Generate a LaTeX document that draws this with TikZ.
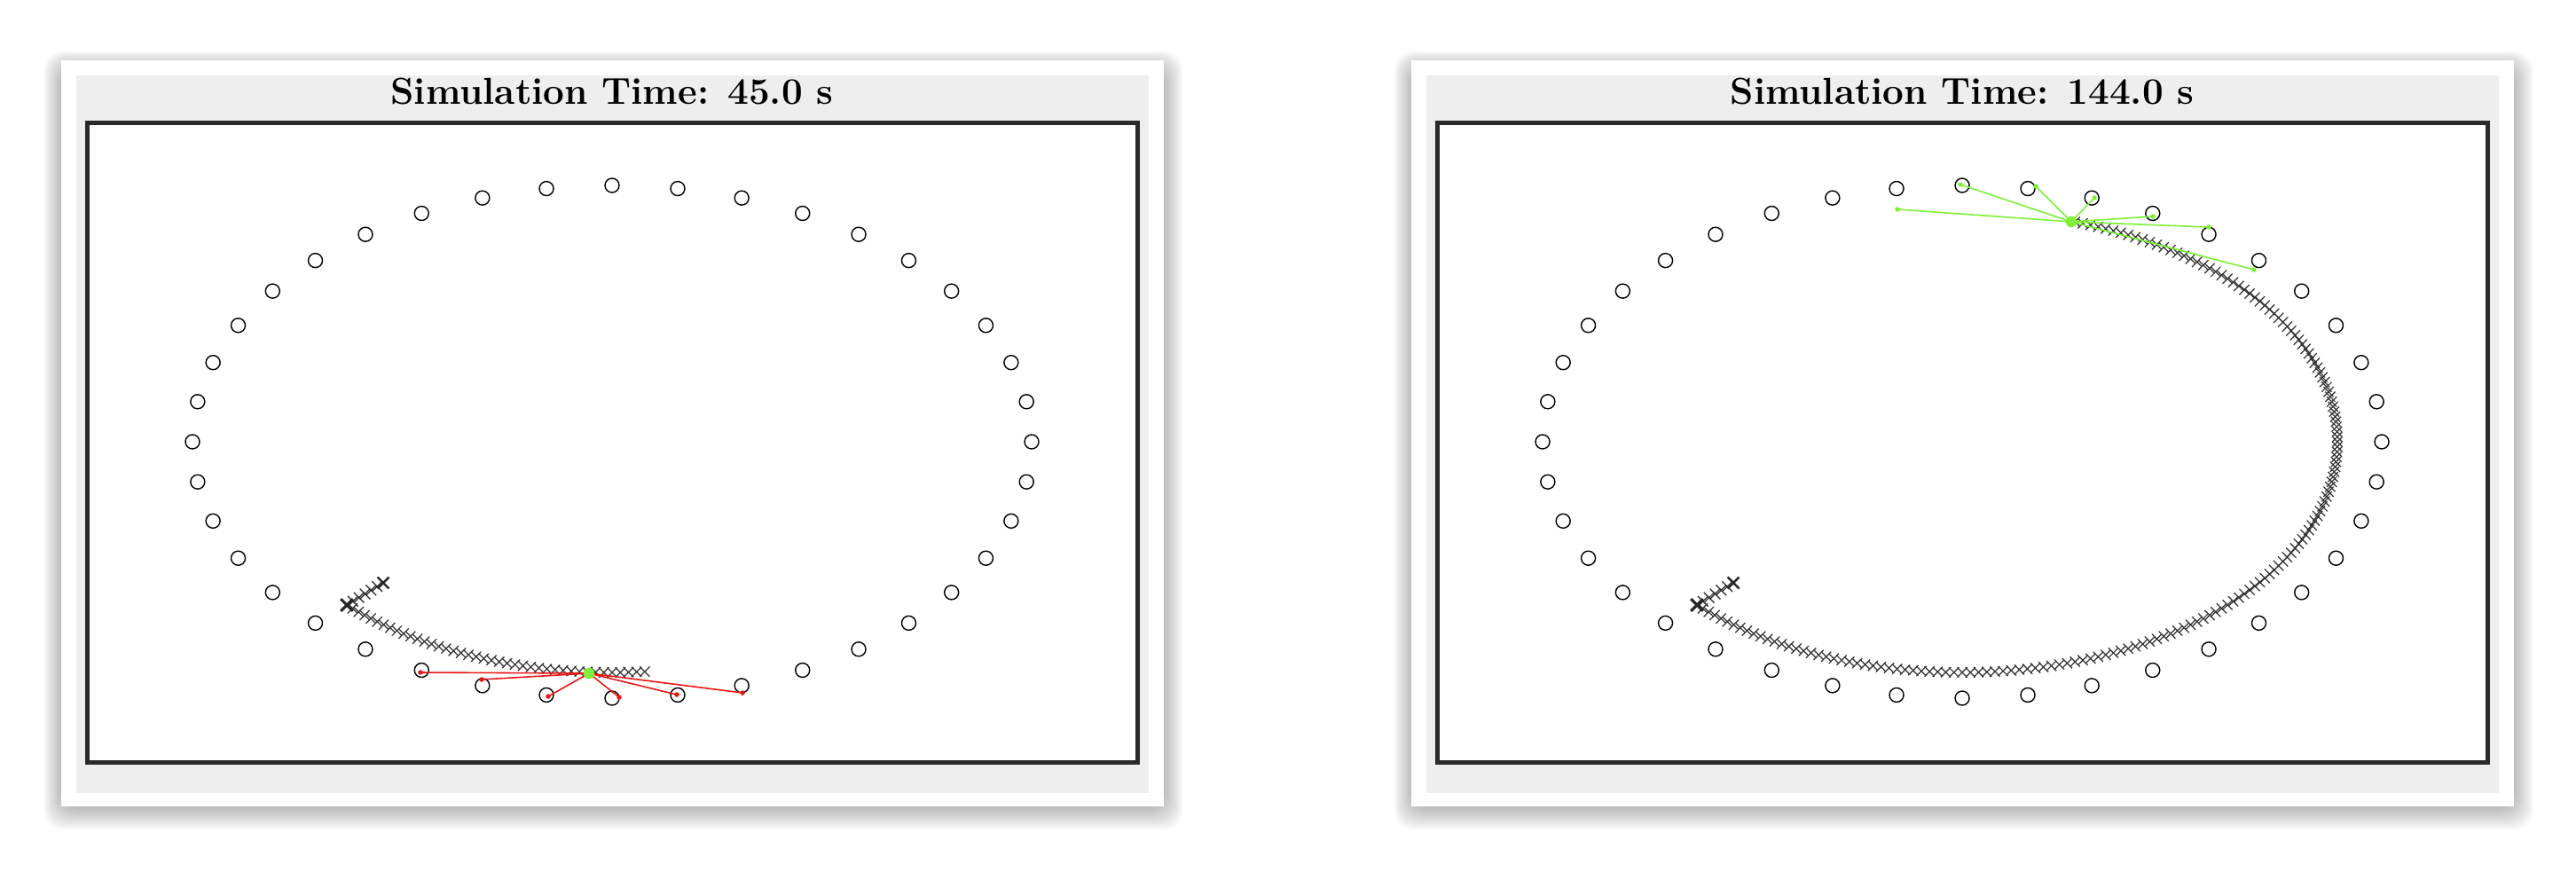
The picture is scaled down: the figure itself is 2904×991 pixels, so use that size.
\documentclass[tikz,border=0pt]{standalone}
\usepackage{tikz}
\usetikzlibrary{shapes.misc,positioning}
\definecolor{estgreen}{RGB}{125,240,55}
\definecolor{obsred}{RGB}{232,22,22}
\definecolor{framegray}{RGB}{42,42,42}
\definecolor{bandgray}{RGB}{238,238,238}
% card, title band, plot frame, landmark ring and path of one panel
\newcommand{\simpanel}[3]{%
  \foreach \s in {1,...,12}
    \fill[black,opacity=0.022,rounded corners=6pt] (69-1.6*\s,76-1.5*\s) rectangle (1312+1.8*\s,911+2*\s);
  \fill[white] (69,68) rectangle (1312,909);
  \fill[bandgray] (86,85) rectangle (1295,894);
  \draw[framegray,line width=1.42pt,fill=white] (98.5,138.5) rectangle (1282.5,859.5);
  \node[title] (#1title) at (690,117) {Simulation Time: #2 s};
  \foreach \k in {0,...,39}
    \node[lmk] (#1c\k) at ({690+473*cos(9*\k)},{498-289*sin(9*\k)}) {};
  \foreach \t [count=\k] in {225,226.25,...,#3}
    \node[trk] (#1x\k) at ({690+423*cos(\t)},{498-260*sin(\t)}) {};
  \foreach \k in {1,...,5}
    \node[lead] (#1h\k) at ({391+\k*41/6},{682-\k*25/6}) {};
  \node[lead,line width=0.7pt] (#1end) at (432,657) {};
  \node[lead,line width=0.9pt] (#1start) at (391,682) {};
}

\begin{document}
\begin{tikzpicture}[x=0.01cm,y=-0.01cm,
  title/.style={anchor=base,font=\fontsize{12}{14}\selectfont\bfseries},
  lmk/.style={draw,circle,inner sep=0pt,minimum size=1.6mm,line width=0.4pt},
  trk/.style={draw=black!80,cross out,inner sep=0pt,minimum size=1mm,line width=0.35pt},
  lead/.style={draw=black!85,cross out,inner sep=0pt,minimum size=1.05mm,line width=0.35pt},
  est/.style={circle,inner sep=0pt,minimum size=1.25mm},
  obs/.style={circle,inner sep=0pt,minimum size=0.55mm}]
\useasboundingbox (0,0) rectangle (2904,991);

% left: t = 45 s
\begin{scope}
\simpanel{A}{45.0}{276}
\coordinate (Aest) at (664,759);
\foreach \n/\x/\y in {1/474/758,2/543/766,3/618/785,4/698/786,5/763/783,6/837/781} {
  \node[obs,fill=obsred] (Am\n) at (\x,\y) {};
  \draw[obsred,line width=0.45pt] (Aest) -- (Am\n.center);
}
\node[est,fill=estgreen] (Arobot) at (Aest) {};
\end{scope}

% right: t = 144 s
\begin{scope}[shift={(1522,0)}]
\simpanel{B}{144.0}{433}
\coordinate (Best) at (813,250);
\foreach \n/\x/\y in {1/617/236,2/688/208,3/773/210,4/839/223,5/905/244,6/968/256,7/1019/304} {
  \node[obs,fill=estgreen] (Bm\n) at (\x,\y) {};
  \draw[estgreen,line width=0.45pt] (Best) -- (Bm\n.center);
}
\node[est,fill=estgreen] (Brobot) at (Best) {};
\end{scope}
\end{tikzpicture}
\end{document}
